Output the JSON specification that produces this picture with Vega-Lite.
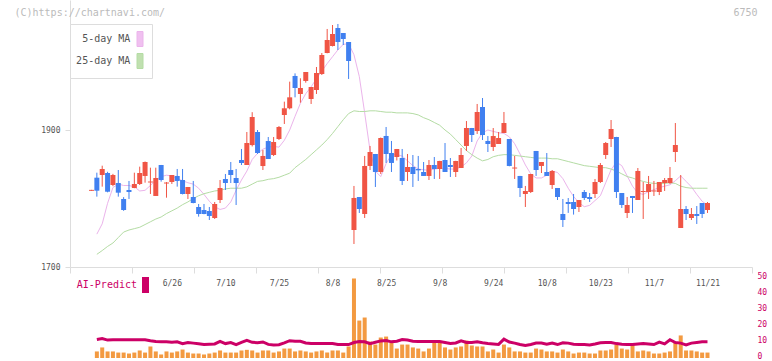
{
"$schema":"https://vega.github.io/schema/vega-lite/v6.json",
"background":"white",
"padding":{"left":14,"top":0,"right":4,"bottom":3},
"bounds":"flush",
"spacing":0,
"config":{"view":{"stroke":null},"font":"DejaVu Sans Mono","axis":{"grid":false,"labelFont":"DejaVu Sans Mono","titleFont":"DejaVu Sans Mono"},"legend":{"labelFont":"DejaVu Sans Mono"}},
"resolve":{"scale":{"color":"independent"},"legend":{"color":"independent"}},
"datasets":{"d":[
{"i":0,"o":1811.2,"h":1812.6,"l":1811.2,"c":1812.6},
{"i":1,"o":1830.4,"h":1837.7,"l":1802.7,"c":1811.4,"m5":1748,"m25":1718.5,"v":4.1,"p":11.6},
{"i":2,"o":1834.3,"h":1847.9,"l":1817.3,"c":1843.1,"m5":1763,"m25":1724,"v":6.6,"p":12.2},
{"i":3,"o":1837.2,"h":1839,"l":1809,"c":1809.9,"m5":1793,"m25":1730,"v":4.1,"p":11.2},
{"i":4,"o":1819.7,"h":1836,"l":1818,"c":1834.3,"m5":1816,"m25":1735,"v":4.1,"p":11.4},
{"i":5,"o":1822.6,"h":1841.6,"l":1802.7,"c":1808.5,"m5":1821,"m25":1743,"v":3.4,"p":11.4},
{"i":6,"o":1799.3,"h":1802,"l":1782,"c":1783.2,"m5":1819,"m25":1751,"v":3.4,"p":11.4},
{"i":7,"o":1812.4,"h":1825.6,"l":1799.3,"c":1809.5,"m5":1819,"m25":1754,"v":2.8,"p":11.4},
{"i":8,"o":1815.3,"h":1837.7,"l":1815,"c":1821.2,"m5":1817,"m25":1756,"v":3.4,"p":11.4},
{"i":9,"o":1821.2,"h":1846.5,"l":1819.7,"c":1837.2,"m5":1811,"m25":1758,"v":4.7,"p":11.4},
{"i":10,"o":1832.9,"h":1854,"l":1823.1,"c":1853.3,"m5":1812,"m25":1762,"v":3.4,"p":11.4},
{"i":11,"o":1823.4,"h":1845,"l":1806.6,"c":1824.8,"m5":1819,"m25":1766,"v":7.2,"p":10.8},
{"i":12,"o":1803.7,"h":1845,"l":1803.7,"c":1829.9,"m5":1827,"m25":1770,"v":4.1,"p":10.3},
{"i":13,"o":1848.9,"h":1849,"l":1824.6,"c":1827,"m5":1832,"m25":1773,"v":2.2,"p":10.1},
{"i":14,"o":1821.9,"h":1824,"l":1801.2,"c":1823.3,"m5":1834,"m25":1778,"v":4.1,"p":10.2},
{"i":15,"o":1824.1,"h":1834.3,"l":1821.2,"c":1834.3,"m5":1833,"m25":1782,"v":3.4,"p":9.8},
{"i":16,"o":1832.9,"h":1843.1,"l":1817.3,"c":1825.6,"m5":1829,"m25":1786,"v":4.1,"p":10.1},
{"i":17,"o":1827,"h":1843.1,"l":1806,"c":1806.6,"m5":1826,"m25":1791,"v":5.3,"p":9.0},
{"i":18,"o":1806.6,"h":1816.8,"l":1799.3,"c":1816.8,"m5":1823,"m25":1795,"v":3.4,"p":9.7},
{"i":19,"o":1802.2,"h":1825.6,"l":1793,"c":1793.4,"m5":1821,"m25":1800,"v":2.8,"p":9.3},
{"i":20,"o":1787.6,"h":1792,"l":1773.5,"c":1777.4,"m5":1815,"m25":1804,"v":2.8,"p":8.9},
{"i":21,"o":1783.2,"h":1792,"l":1777,"c":1777.4,"m5":1806,"m25":1807,"v":2.2,"p":8.4},
{"i":22,"o":1781.8,"h":1787.6,"l":1768.6,"c":1774.5,"m5":1796,"m25":1809,"v":2.8,"p":8.6},
{"i":23,"o":1771.5,"h":1794.9,"l":1770.1,"c":1792,"m5":1788,"m25":1811,"v":3.4,"p":8.8},
{"i":24,"o":1797.8,"h":1827,"l":1793.4,"c":1815.3,"m5":1784,"m25":1812,"v":4.7,"p":10.4},
{"i":25,"o":1828.5,"h":1835.8,"l":1812.4,"c":1822.6,"m5":1786,"m25":1814,"v":3.4,"p":9.0},
{"i":26,"o":1841.6,"h":1853.3,"l":1822.6,"c":1834.3,"m5":1795,"m25":1815,"v":3.4,"p":9.6},
{"i":27,"o":1829.9,"h":1843.1,"l":1790.5,"c":1822.6,"m5":1812,"m25":1815,"v":3.4,"p":8.4},
{"i":28,"o":1856.2,"h":1872.3,"l":1848.9,"c":1851.8,"m5":1827,"m25":1815,"v":4.7,"p":9.8},
{"i":29,"o":1848.9,"h":1897.1,"l":1848.9,"c":1881,"m5":1840,"m25":1817,"v":5.1,"p":11.0},
{"i":30,"o":1878,"h":1926,"l":1876,"c":1919,"m5":1857,"m25":1821,"v":4.7,"p":9.8},
{"i":31,"o":1897.1,"h":1900,"l":1865,"c":1866.4,"m5":1866,"m25":1825,"v":3.4,"p":9.6},
{"i":32,"o":1847.4,"h":1870.8,"l":1841.6,"c":1862.1,"m5":1872,"m25":1826,"v":4.7,"p":10.0},
{"i":33,"o":1883.9,"h":1889.8,"l":1857.7,"c":1857.7,"m5":1875,"m25":1828,"v":4.7,"p":8.5},
{"i":34,"o":1863.5,"h":1889.8,"l":1862,"c":1882.5,"m5":1876,"m25":1829,"v":3.4,"p":8.2},
{"i":35,"o":1886.9,"h":1905.8,"l":1885.4,"c":1904.4,"m5":1875,"m25":1831,"v":4.1,"p":8.3},
{"i":36,"o":1921.9,"h":1941.4,"l":1908.8,"c":1931.7,"m5":1885,"m25":1834,"v":5.9,"p":9.5},
{"i":37,"o":1931.7,"h":1970.6,"l":1930.2,"c":1947.7,"m5":1900,"m25":1837,"v":5.9,"p":10.8},
{"i":38,"o":1978.9,"h":1982.7,"l":1947.7,"c":1961.3,"m5":1920,"m25":1845,"v":4.1,"p":10.5},
{"i":39,"o":1952.6,"h":1975.5,"l":1939.9,"c":1961.3,"m5":1939,"m25":1851,"v":4.7,"p":10.4},
{"i":40,"o":1971.6,"h":1984.7,"l":1969.1,"c":1984.7,"m5":1953,"m25":1857,"v":4.1,"p":9.4},
{"i":41,"o":1945.3,"h":1962.8,"l":1938,"c":1962.8,"m5":1963,"m25":1864,"v":3.4,"p":9.1},
{"i":42,"o":1958.4,"h":1992,"l":1952.6,"c":1983.2,"m5":1975,"m25":1871,"v":4.1,"p":9.0},
{"i":43,"o":1981.8,"h":2012.4,"l":1980.3,"c":2009.5,"m5":1986,"m25":1878,"v":4.7,"p":9.0},
{"i":44,"o":2012.4,"h":2047.5,"l":2012,"c":2031.4,"m5":1997,"m25":1886,"v":3.4,"p":9.0},
{"i":45,"o":2022.6,"h":2053.3,"l":2022,"c":2040.2,"m5":2007,"m25":1895,"v":4.7,"p":9.0},
{"i":46,"o":2048.9,"h":2054.8,"l":2016.8,"c":2028.5,"m5":2017,"m25":1905,"v":4.7,"p":8.4},
{"i":47,"o":2041.6,"h":2041.6,"l":2024.1,"c":2032.9,"m5":2025,"m25":1915,"v":3.4,"p":8.4},
{"i":48,"o":2028.5,"h":2028.5,"l":1974.5,"c":2000.7,"m5":2026,"m25":1924,"v":7.2,"p":8.4},
{"i":49,"o":1754,"h":1818.3,"l":1733.6,"c":1800.8,"m5":2010,"m25":1928,"v":49.7,"p":9.7},
{"i":50,"o":1802.2,"h":1802.2,"l":1778.9,"c":1784.7,"m5":1978,"m25":1927,"v":23.4,"p":10.3},
{"i":51,"o":1777.4,"h":1862.1,"l":1771.6,"c":1847.5,"m5":1925,"m25":1927,"v":25.3,"p":10.1},
{"i":52,"o":1847.5,"h":1876.7,"l":1841.6,"c":1867.9,"m5":1870,"m25":1928,"v":10.3,"p":8.9},
{"i":53,"o":1865,"h":1865,"l":1816.8,"c":1838.7,"m5":1840,"m25":1928,"v":8.4,"p":9.8},
{"i":54,"o":1838.7,"h":1889,"l":1835.8,"c":1888.3,"m5":1832,"m25":1927,"v":12.8,"p":10.7},
{"i":55,"o":1891.3,"h":1904.4,"l":1851.9,"c":1865,"m5":1851,"m25":1926,"v":13.4,"p":10.9},
{"i":56,"o":1866.4,"h":1884,"l":1838.7,"c":1851.9,"m5":1864,"m25":1926,"v":9.7,"p":10.1},
{"i":57,"o":1860.6,"h":1872.3,"l":1855.5,"c":1872.3,"m5":1864,"m25":1925,"v":5.9,"p":10.5},
{"i":58,"o":1859.1,"h":1872.3,"l":1819.7,"c":1825.6,"m5":1862,"m25":1925,"v":8.4,"p":11.5},
{"i":59,"o":1838.7,"h":1865,"l":1825.6,"c":1846,"m5":1855,"m25":1925,"v":8.4,"p":11.2},
{"i":60,"o":1846,"h":1863.5,"l":1816.8,"c":1835.8,"m5":1848,"m25":1924,"v":6.6,"p":10.5},
{"i":61,"o":1843.1,"h":1862.1,"l":1825.6,"c":1841.1,"m5":1843,"m25":1922,"v":5.9,"p":10.3},
{"i":62,"o":1838.7,"h":1853.3,"l":1832.9,"c":1832.9,"m5":1842,"m25":1918,"v":4.1,"p":10.3},
{"i":63,"o":1832.9,"h":1856.2,"l":1827,"c":1848.9,"m5":1841,"m25":1915,"v":5.9,"p":10.3},
{"i":64,"o":1848.9,"h":1860.6,"l":1828.5,"c":1843.1,"m5":1843,"m25":1911,"v":9.7,"p":10.3},
{"i":65,"o":1843.1,"h":1855,"l":1828.5,"c":1854.8,"m5":1844,"m25":1907,"v":9.7,"p":10.3},
{"i":66,"o":1856.2,"h":1881,"l":1838.7,"c":1838.7,"m5":1844,"m25":1900,"v":6.6,"p":9.7},
{"i":67,"o":1848.9,"h":1859.1,"l":1831.4,"c":1846,"m5":1843,"m25":1894,"v":5.3,"p":9.1},
{"i":68,"o":1838.7,"h":1855,"l":1831.4,"c":1854.8,"m5":1843,"m25":1886,"v":6.6,"p":9.4},
{"i":69,"o":1844.5,"h":1873.7,"l":1844.5,"c":1863.5,"m5":1846,"m25":1878,"v":7.2,"p":10.7},
{"i":70,"o":1876.7,"h":1913.1,"l":1869.4,"c":1902.9,"m5":1852,"m25":1870,"v":10.9,"p":9.7},
{"i":71,"o":1902.9,"h":1903,"l":1882.5,"c":1892.7,"m5":1862,"m25":1864,"v":7.8,"p":9.7},
{"i":72,"o":1898.5,"h":1938,"l":1894.2,"c":1926.3,"m5":1884,"m25":1859,"v":7.2,"p":10.1},
{"i":73,"o":1933.6,"h":1946.7,"l":1885.4,"c":1892.7,"m5":1896,"m25":1855,"v":7.2,"p":9.5},
{"i":74,"o":1884,"h":1891.2,"l":1867.9,"c":1879.6,"m5":1900,"m25":1857,"v":4.1,"p":9.1},
{"i":75,"o":1875.2,"h":1902.9,"l":1869.4,"c":1891.2,"m5":1898,"m25":1861,"v":5.3,"p":8.8},
{"i":76,"o":1879.6,"h":1897.1,"l":1879.6,"c":1888.3,"m5":1896,"m25":1863,"v":3.4,"p":8.5},
{"i":77,"o":1895.6,"h":1926.3,"l":1895.6,"c":1910.2,"m5":1895,"m25":1864,"v":8.4,"p":11.8},
{"i":78,"o":1886.9,"h":1887,"l":1847,"c":1847.5,"m5":1890,"m25":1864,"v":6.6,"p":10.0},
{"i":79,"o":1843.8,"h":1862.1,"l":1828.5,"c":1845.2,"m5":1880,"m25":1863,"v":4.1,"p":9.3},
{"i":80,"o":1832.9,"h":1833,"l":1802.2,"c":1815.3,"m5":1865,"m25":1862,"v":4.1,"p":8.4},
{"i":81,"o":1806.6,"h":1818.3,"l":1787.6,"c":1811,"m5":1849,"m25":1861,"v":3.4,"p":7.8},
{"i":82,"o":1809.5,"h":1835.8,"l":1808,"c":1835.8,"m5":1836,"m25":1860,"v":3.4,"p":8.4},
{"i":83,"o":1869.4,"h":1869.4,"l":1832.9,"c":1841.6,"m5":1830,"m25":1859,"v":5.9,"p":9.3},
{"i":84,"o":1847.5,"h":1853.3,"l":1837.2,"c":1853.3,"m5":1830,"m25":1859,"v":5.3,"p":9.3},
{"i":85,"o":1838.7,"h":1866.4,"l":1832.9,"c":1832.9,"m5":1834,"m25":1859,"v":4.1,"p":8.6},
{"i":86,"o":1819.7,"h":1841.6,"l":1813.9,"c":1840.2,"m5":1840,"m25":1858,"v":4.1,"p":9.3},
{"i":87,"o":1815.3,"h":1815.3,"l":1797.8,"c":1802.2,"m5":1838,"m25":1858,"v":3.4,"p":8.4},
{"i":88,"o":1777.4,"h":1799.3,"l":1758.4,"c":1768.6,"m5":1829,"m25":1856,"v":5.3,"p":9.5},
{"i":89,"o":1794.9,"h":1800.7,"l":1779,"c":1792,"m5":1815,"m25":1854,"v":4.1,"p":9.3},
{"i":90,"o":1794.9,"h":1806.6,"l":1776.5,"c":1784.7,"m5":1803,"m25":1852,"v":2.8,"p":8.6},
{"i":91,"o":1787.6,"h":1797.8,"l":1780.3,"c":1797.8,"m5":1794,"m25":1850,"v":3.4,"p":8.5},
{"i":92,"o":1809.5,"h":1812.4,"l":1797.8,"c":1800.7,"m5":1788,"m25":1848,"v":3.4,"p":8.4},
{"i":93,"o":1802.2,"h":1808,"l":1794.9,"c":1799.3,"m5":1790,"m25":1847,"v":2.8,"p":8.2},
{"i":94,"o":1806.6,"h":1828.5,"l":1800.7,"c":1824.1,"m5":1797,"m25":1846,"v":2.8,"p":8.8},
{"i":95,"o":1824.1,"h":1851.8,"l":1822.6,"c":1848.9,"m5":1804,"m25":1845,"v":4.7,"p":9.5},
{"i":96,"o":1863.5,"h":1882.5,"l":1857.7,"c":1881,"m5":1823,"m25":1845,"v":4.7,"p":9.7},
{"i":97,"o":1886.9,"h":1914.6,"l":1875.2,"c":1901.5,"m5":1842,"m25":1843,"v":5.3,"p":9.7},
{"i":98,"o":1889.8,"h":1890,"l":1800.7,"c":1809.5,"m5":1853,"m25":1840,"v":8.4,"p":9.0},
{"i":99,"o":1808,"h":1808,"l":1786.1,"c":1790.5,"m5":1848,"m25":1836,"v":5.9,"p":8.6},
{"i":100,"o":1778.8,"h":1802.2,"l":1771.5,"c":1790.5,"m5":1833,"m25":1832,"v":5.3,"p":8.4},
{"i":101,"o":1803.7,"h":1803.7,"l":1778.9,"c":1800.7,"m5":1818,"m25":1830,"v":8.4,"p":8.4},
{"i":102,"o":1797.8,"h":1844.5,"l":1797.8,"c":1840.2,"m5":1808,"m25":1827,"v":4.1,"p":8.8},
{"i":103,"o":1809.5,"h":1824.1,"l":1770.1,"c":1811,"m5":1806,"m25":1825,"v":4.7,"p":9.0},
{"i":104,"o":1809.5,"h":1832.9,"l":1799.3,"c":1821.2,"m5":1810,"m25":1823,"v":4.1,"p":8.8},
{"i":105,"o":1810.3,"h":1825.6,"l":1803.7,"c":1811.7,"m5":1813,"m25":1822,"v":2.8,"p":8.4},
{"i":106,"o":1809.5,"h":1824.1,"l":1805,"c":1824.1,"m5":1816,"m25":1822,"v":2.8,"p":9.9},
{"i":107,"o":1822.6,"h":1829.9,"l":1811,"c":1827,"m5":1818,"m25":1822,"v":3.4,"p":8.8},
{"i":108,"o":1822.6,"h":1846,"l":1821.2,"c":1829.9,"m5":1820,"m25":1823,"v":4.1,"p":11.4},
{"i":109,"o":1867.9,"h":1910.2,"l":1853.3,"c":1878.1,"m5":1826,"m25":1822,"v":9.7,"p":9.7},
{"i":110,"o":1756.9,"h":1834.3,"l":1756.9,"c":1784.7,"m5":1833,"m25":1818,"v":14.1,"p":9.3},
{"i":111,"o":1784.7,"h":1789,"l":1768.6,"c":1777.4,"m5":1825,"m25":1816,"v":4.7,"p":8.2},
{"i":112,"o":1771.5,"h":1786.1,"l":1768.6,"c":1777.4,"m5":1817,"m25":1815,"v":4.7,"p":9.3},
{"i":113,"o":1777.4,"h":1789,"l":1762.8,"c":1774.5,"m5":1806,"m25":1815,"v":4.1,"p":9.7},
{"i":114,"o":1793.4,"h":1793.4,"l":1771.5,"c":1777.4,"m5":1796,"m25":1815,"v":3.4,"p":10.1},
{"i":115,"o":1783.2,"h":1794.9,"l":1778.9,"c":1793.4,"m5":1790,"m25":1815,"v":3.4,"p":10.1}
]},
"vconcat":[
{
"width":682,"height":267,
"data":{"name":"d"},
"encoding":{"x":{"field":"i","type":"quantitative","scale":{"domain":[-4.014,123.31],"nice":false,"zero":false,"padding":0},
 "axis":{"orient":"bottom","values":[-4.014,7.561,19.135,30.71,42.285,53.859,65.434,77.009,88.584,100.158,111.733,123.3],"labels":false,"ticks":true,"tickSize":6,"tickColor":"#dddddd","domainColor":"#dddddd",
  "title":"6750","titleAngle":0,"titleX":687,"titleY":-260,"titleAlign":"right","titleBaseline":"top","titleFontSize":10,"titleFontWeight":"normal","titleColor":"#bbbbbb"}}},
"layer":[
{"transform":[{"fold":["m5","m25"],"as":["ma","val"]}],
 "mark":{"type":"line","strokeWidth":1},
 "encoding":{
  "y":{"field":"val","type":"quantitative","scale":{"domain":[1700,2089.8],"nice":false,"zero":false},
   "axis":{"orient":"left","values":[1700,1900],"format":"d","tickSize":5,"tickColor":"#dddddd","domainColor":"#dddddd","labelFontSize":8,"labelColor":"#555555","labelPadding":5,
    "title":"(C)https://chartnavi.com/","titleAngle":0,"titleX":-56,"titleY":7,"titleAlign":"left","titleBaseline":"top","titleFontSize":10,"titleFontWeight":"normal","titleColor":"#bbbbbb"}},
  "color":{"field":"ma","type":"nominal","scale":{"domain":["m5","m25"],"range":["#ebb4eb","#b4dca4"]},
   "legend":{"orient":"none","legendX":0,"legendY":24,"title":null,"padding":7,"strokeColor":"#dddddd","fillColor":"#ffffff","rowPadding":2,
    "symbolType":"M0.36,-1H1.16V1H0.36Z","symbolSize":225,"symbolOffset":49.3,"labelAlign":"right","labelOffset":-12,"labelFontSize":10,"labelColor":"#555555",
    "symbolStrokeColor":"#666666","symbolStrokeWidth":1,
    "labelExpr":"datum.label == 'm5' ? '5-day MA' : '25-day MA'",
    "encode":{"symbols":{"update":{"fill":{"signal":"datum.value == 'm5' ? '#f0c0f0' : '#c0e0b0'"},"stroke":{"value":"#666666"},"strokeWidth":{"value":1},"opacity":{"value":1}}}}}}
 }},
{"mark":{"type":"rule","strokeWidth":1},
 "encoding":{"y":{"field":"l","type":"quantitative",
   "axis":{"orient":"left","values":[1700,1900],"format":"d","tickSize":5,"tickColor":"#dddddd","domainColor":"#dddddd","labelFontSize":8,"labelColor":"#555555","labelPadding":5,
    "title":"(C)https://chartnavi.com/","titleAngle":0,"titleX":-56,"titleY":7,"titleAlign":"left","titleBaseline":"top","titleFontSize":10,"titleFontWeight":"normal","titleColor":"#bbbbbb"}},"y2":{"field":"h"},
  "color":{"condition":{"test":"datum.c >= datum.o","value":"#f05545"},"value":"#4080f0"}}},
{"mark":{"type":"bar","size":5},
 "encoding":{"y":{"field":"o","type":"quantitative",
   "axis":{"orient":"left","values":[1700,1900],"format":"d","tickSize":5,"tickColor":"#dddddd","domainColor":"#dddddd","labelFontSize":8,"labelColor":"#555555","labelPadding":5,
    "title":"(C)https://chartnavi.com/","titleAngle":0,"titleX":-56,"titleY":7,"titleAlign":"left","titleBaseline":"top","titleFontSize":10,"titleFontWeight":"normal","titleColor":"#bbbbbb"}},"y2":{"field":"c"},
  "color":{"condition":{"test":"datum.c >= datum.o","value":"#f05545"},"value":"#4080f0"}}}
]
},
{
"width":682,"height":91,
"data":{"name":"d"},
"encoding":{"x":{"field":"i","type":"quantitative","scale":{"domain":[-4.014,123.31],"nice":false,"zero":false,"padding":0},
 "axis":{"orient":"top","values":[15,25,35,45,55,65,75,85,95,105,115],
  "labelExpr":"['6/26','7/10','7/25','8/8','8/25','9/8','9/24','10/8','10/23','11/7','11/21'][round((datum.value-15)/10)]",
  "ticks":false,"domain":false,"labelPadding":-16,"labelBaseline":"middle","labelFontSize":8,"labelColor":"#555555","labelFlush":false,"title":null}}},
"layer":[
{"mark":{"type":"bar","size":4,"color":"#f39a41"},
 "encoding":{"y":{"field":"v","type":"quantitative","scale":{"domain":[0,56.875],"nice":false},
  "axis":{"orient":"right","values":[0,10,20,30,40,50],"domain":false,"ticks":false,"labelPadding":5,"labelOffset":-1.5,"labelColor":"#cc0066","labelFontSize":8,"title":null}}}},
{"mark":{"type":"line","strokeWidth":3},
 "encoding":{"y":{"field":"p","type":"quantitative",
  "axis":{"orient":"right","values":[0,10,20,30,40,50],"domain":false,"ticks":false,"labelPadding":5,"labelOffset":-1.5,"labelColor":"#cc0066","labelFontSize":8,"title":null}},
  "color":{"datum":"AI-Predict","scale":{"range":["#cc0066"]},
   "legend":{"orient":"none","legendX":0,"legendY":10,"title":null,"padding":0,
    "symbolType":"M-0.44,-1H0.44V1H-0.44Z","symbolSize":256,"symbolOffset":67.5,"labelAlign":"right","labelOffset":-16.5,"labelFontSize":10,"labelColor":"#cc0066",
    "encode":{"symbols":{"update":{"fill":{"value":"#cc0066"},"stroke":{"value":"#cc0066"},"strokeWidth":{"value":0},"opacity":{"value":1}}}}}}}}
]
}
]
}
